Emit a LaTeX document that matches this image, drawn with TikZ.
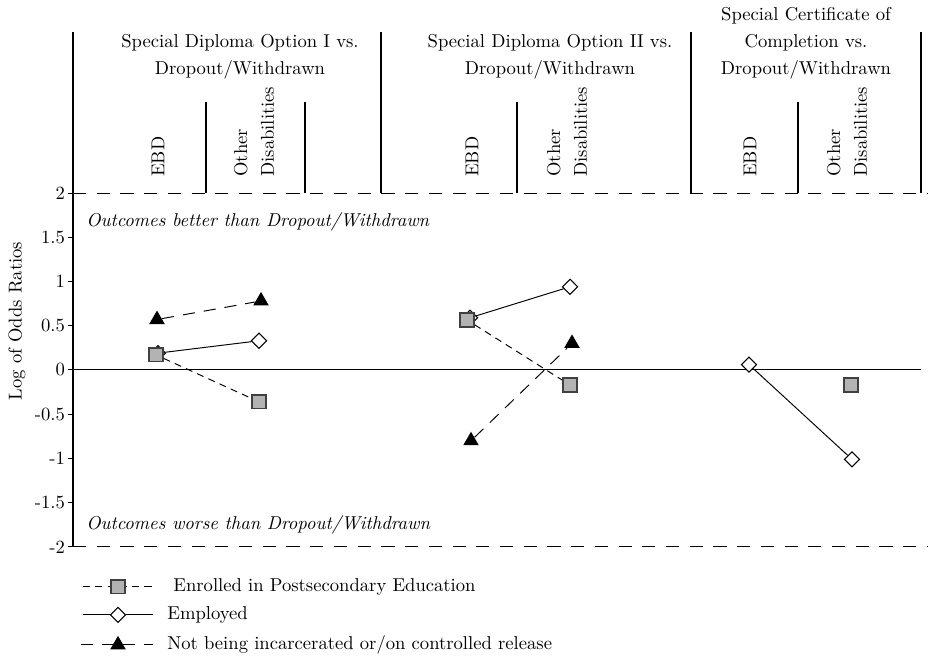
\documentclass[tikz,border=0pt]{standalone}
\usepackage{fontspec}
\usepackage{tikz}
\usetikzlibrary{positioning,shapes.geometric,backgrounds}
\definecolor{boxgray}{HTML}{B3B3B3}
\definecolor{edgegray}{HTML}{404040}
\tikzset{
  sqmark/.style={rectangle,draw=edgegray,line width=0.9pt,fill=boxgray,minimum size=0.27cm,inner sep=0pt},
  dmmark/.style={diamond,draw,line width=0.6pt,fill=white,minimum size=0.31cm,inner sep=0pt},
  trimark/.style={regular polygon,regular polygon sides=3,fill=black,minimum size=0.36cm,inner sep=0pt},
  enrolline/.style={line width=0.55pt,dash pattern=on 4pt off 3pt},
  employline/.style={line width=0.55pt},
  releaseline/.style={line width=0.55pt,dash pattern=on 7pt off 5pt},
  refline/.style={line width=0.55pt,dash pattern=on 7.5pt off 6pt},
  subhead/.style={rotate=90,anchor=west,inner sep=0pt,align=left},
}

\begin{document}
\begin{tikzpicture}[x=0.02cm,y=1.77cm,font=\fontsize{10.6}{15.3}\selectfont]
  \useasboundingbox (0,4.181) rectangle (928,-3.243);
  % frame and header
  \draw[line width=0.6pt] (73,3.819) -- (73,-2);
  \foreach \xx in {381,691,921} \draw[line width=0.6pt] (\xx,3.819) -- (\xx,2);
  \foreach \xx in {206,305,517,798} \draw[line width=0.6pt] (\xx,3.028) -- (\xx,2);
  \draw[refline] (73,2) -- (928,2);
  \draw[refline] (73,-2) -- (928,-2);
  \draw[line width=0.55pt] (73,0) -- (921,0);
  \foreach \v [count=\i] in {2,1.5,1,0.5,0,-0.5,-1,-1.5,-2} {
    \draw[line width=0.55pt] (68,\v) -- (73,\v);
    \node[left,inner sep=1pt] (tk\i) at (67,\v) {\v};
  }
  \node[rotate=90] (ylab) at (17,0.554) {Log of Odds Ratios};
  \node[align=center] (grp1) at (240,3.54) {Special Diploma Option I vs.\\Dropout/Withdrawn};
  \node[align=center] (grp2) at (550,3.54) {Special Diploma Option II vs.\\Dropout/Withdrawn};
  \node[align=center] (grp3) at (806,3.69) {Special Certificate of\\Completion vs.\\Dropout/Withdrawn};
  \node[subhead] (ebd1) at (158,2.18) {EBD};
  \node[subhead] (oth1) at (254,2.18) {Other\\Disabilities};
  \node[subhead] (ebd2) at (472,2.18) {EBD};
  \node[subhead] (oth2) at (567,2.18) {Other\\Disabilities};
  \node[subhead] (ebd3) at (750,2.18) {EBD};
  \node[subhead] (oth3) at (847,2.18) {Other\\Disabilities};
  \node[anchor=west,inner sep=0pt] (better) at (86,1.672) {\itshape Outcomes better than Dropout/Withdrawn};
  \node[anchor=west,inner sep=0pt] (worse) at (86,-1.751) {\itshape Outcomes worse than Dropout/Withdrawn};
  % Special Diploma Option I
  \node[dmmark] (emp1a) at (158,0.19) {};
  \node[dmmark] (emp1b) at (259,0.33) {};
  \node[sqmark] (enr1a) at (156,0.17) {};
  \node[sqmark] (enr1b) at (259,-0.36) {};
  \node[trimark] (rel1a) at (157,0.57) {};
  \node[trimark] (rel1b) at (261,0.78) {};
  % Special Diploma Option II
  \node[dmmark] (emp2a) at (470,0.59) {};
  \node[dmmark] (emp2b) at (570,0.94) {};
  \node[sqmark] (enr2a) at (467,0.565) {};
  \node[sqmark] (enr2b) at (570,-0.17) {};
  \node[trimark] (rel2a) at (471,-0.80) {};
  \node[trimark] (rel2b) at (572,0.30) {};
  % Special Certificate of Completion
  \node[dmmark] (emp3a) at (749,0.06) {};
  \node[dmmark] (emp3b) at (852,-1.01) {};
  \node[sqmark] (enr3b) at (851,-0.17) {};
  \begin{scope}[on background layer]
    \draw[employline] (emp1a) -- (emp1b);
    \draw[enrolline] (enr1a) -- (enr1b);
    \draw[releaseline] (rel1a) -- (rel1b);
    \draw[employline] (emp2a) -- (emp2b);
    \draw[enrolline] (enr2a) -- (enr2b);
    \draw[releaseline] (rel2a) -- (rel2b);
    \draw[employline] (emp3a) -- (emp3b);
  \end{scope}
  % legend
  \coordinate (lg1a) at (83,-2.452); \coordinate (lg1b) at (153,-2.452);
  \coordinate (lg2a) at (83,-2.768); \coordinate (lg2b) at (153,-2.768);
  \coordinate (lg3a) at (81,-3.107); \coordinate (lg3b) at (153,-3.107);
  \draw[enrolline] (lg1a) -- (lg1b);
  \draw[employline] (lg2a) -- (lg2b);
  \draw[releaseline] (lg3a) -- (lg3b);
  \node[sqmark] (lgsq) at (118,-2.452) {};
  \node[dmmark] (lgdm) at (118,-2.768) {};
  \node[trimark] (lgtri) at (118,-3.107) {};
  \node[anchor=west,inner sep=0pt] (lgtx1) at (173,-2.452) {Enrolled in Postsecondary Education};
  \node[anchor=west,inner sep=0pt] (lgtx2) at (167,-2.768) {Employed};
  \node[anchor=west,inner sep=0pt] (lgtx3) at (167,-3.107) {Not being incarcerated or/on controlled release};
\end{tikzpicture}
\end{document}
